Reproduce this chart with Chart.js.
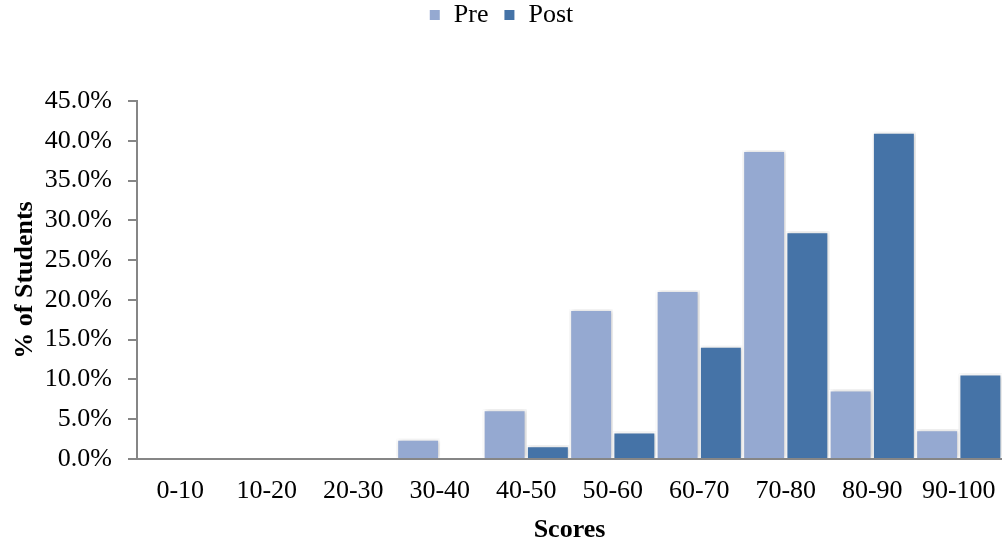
<!doctype html>
<html lang="en">
  <head>
    <meta charset="utf-8">
    <title>Pre / Post Scores</title>
    <style>
      * {
        margin: 0;
        padding: 0;
      }
      body {
        background: white;
      }
      .chartBox {
        width: 1002px;
        height: 543px;
      }
    </style>
  </head>
  <body>
    <div class="chartBox">
      <canvas id="myChart"></canvas>
    </div>

    <script src="https://cdn.jsdelivr.net/npm/chart.js"></script>

    <script>
// values (% of students)
const scoreBands = ['0-10', '10-20', '20-30', '30-40', '40-50', '50-60', '60-70', '70-80', '80-90', '90-100'];
const preValues  = [0, 0, 0, 2.5, 6.2, 18.8, 21.2, 38.8, 8.7, 3.7];
const postValues = [0, 0, 0, 0, 1.7, 3.4, 14.2, 28.6, 41.1, 10.7];
const yTicks = [0, 5, 10, 15, 20, 25, 30, 35, 40, 45];

const axisGrey = '#868686';
const serif = "'Liberation Serif', 'Times New Roman', serif";

Chart.defaults.font.family = serif;
Chart.defaults.font.size = 26;
Chart.defaults.color = '#000';

// pin the legend height so the plot area starts where the original does
const legendHeight = {
  id: 'legendHeight',
  beforeInit(chart) {
    const fit = chart.legend.fit;
    chart.legend.fit = function () {
      fit.call(this);
      this.height = 101;
    };
  }
};

// soft shadow around the bars
const barShadow = {
  id: 'barShadow',
  beforeDatasetsDraw(chart) {
    const c = chart.ctx;
    c.save();
    c.shadowColor = 'rgba(0,0,0,0.22)';
    c.shadowBlur = 4;
    c.shadowOffsetX = 1;
    c.shadowOffsetY = 0;
  },
  afterDatasetsDraw(chart) {
    chart.ctx.restore();
  }
};

const data = {
  labels: scoreBands,
  datasets: [
    {
      label: 'Pre',
      data: preValues,
      backgroundColor: '#95A9D1',
      borderColor: '#ffffff',
      borderWidth: 2,
      categoryPercentage: 1,
      barPercentage: 1
    },
    {
      label: 'Post',
      data: postValues,
      backgroundColor: '#4573A7',
      borderColor: '#ffffff',
      borderWidth: 2,
      categoryPercentage: 1,
      barPercentage: 1
    }
  ]
};

const config = {
  type: 'bar',
  data,
  plugins: [legendHeight, barShadow],
  options: {
    animation: false,
    responsive: false,
    devicePixelRatio: 1,
    layout: { padding: 0 },
    plugins: {
      tooltip: { enabled: false },
      legend: {
        position: 'top',
        labels: {
          boxWidth: 12,
          boxHeight: 12,
          padding: 2,
          color: '#000',
          font: { size: 26 },
          generateLabels(chart) {
            const items = Chart.defaults.plugins.legend.labels.generateLabels(chart);
            items[0].text += '  ';
            return items;
          }
        }
      }
    },
    scales: {
      x: {
        grid: {
          display: true,
          drawOnChartArea: false,
          drawTicks: true,
          tickLength: 14,
          color: 'rgba(0,0,0,0)'
        },
        border: { display: true, color: axisGrey, width: 2, z: 1 },
        ticks: { padding: 3, maxRotation: 0, autoSkip: false },
        title: {
          display: true,
          text: 'Scores',
          font: { weight: 'bold', size: 26, lineHeight: 1 },
          padding: { top: 0, bottom: 0 }
        },
        afterFit(scale) { scale.height = 84; }
      },
      y: {
        min: 0,
        max: 45,
        afterBuildTicks(scale) {
          scale.ticks = yTicks.map(v => ({ value: v }));
        },
        grid: {
          drawOnChartArea: false,
          drawTicks: true,
          tickLength: 9,
          color: axisGrey,
          lineWidth: 2,
          z: 1
        },
        border: { display: true, color: axisGrey, width: 2, z: 1 },
        ticks: {
          padding: 16,
          callback: v => v.toFixed(1) + '%'
        },
        title: {
          display: true,
          text: '% of Students',
          font: { weight: 'bold', size: 26 },
          padding: { top: 10, bottom: 0 }
        },
        afterFit(scale) { scale.width = 137; }
      }
    }
  }
};

const canvas = document.getElementById('myChart');
canvas.width = 1002;
canvas.height = 543;
const myChart = new Chart(canvas, config);
    </script>
  </body>
</html>
